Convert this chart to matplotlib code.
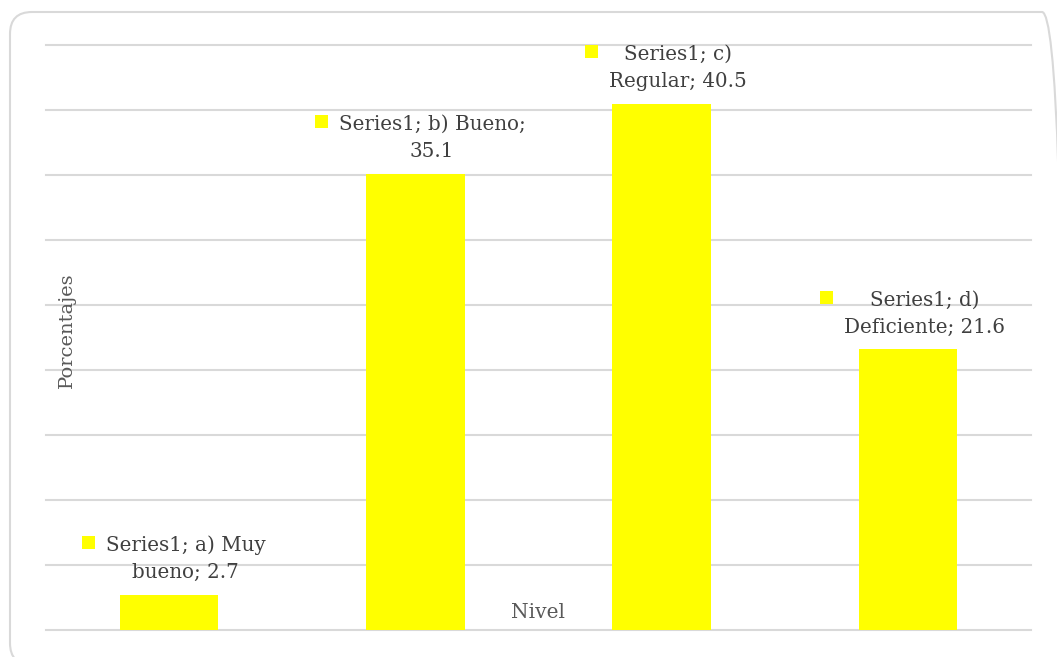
import matplotlib
matplotlib.use("Agg")
import matplotlib.pyplot as plt
from matplotlib.patches import FancyBboxPatch, Rectangle
from matplotlib.transforms import IdentityTransform

categories = ["a) Muy bueno", "b) Bueno", "c) Regular", "d) Deficiente"]
values = [2.7, 35.1, 40.5, 21.6]
series_name = "Series1"
label_lines = [
    ("Series1; a) Muy", "bueno; 2.7"),
    ("Series1; b) Bueno;", "35.1"),
    ("Series1; c)", "Regular; 40.5"),
    ("Series1; d)", "Deficiente; 21.6"),
]
y_ticks = [0, 5, 10, 15, 20, 25, 30, 35, 40, 45]

W, H = 1057, 657
DPI = 100
fig = plt.figure(figsize=(W / DPI, H / DPI), dpi=DPI)
FONT = "DejaVu Serif"
TXT = "#404040"
GRID = "#d9d9d9"
YELLOW = "#ffff00"

# rounded frame (display pixel coords)
frame = FancyBboxPatch((10, -8), 1054, 653,
                       boxstyle="round,pad=0,rounding_size=22",
                       transform=IdentityTransform(), facecolor="none",
                       edgecolor=GRID, linewidth=1.5, zorder=-1)
fig.patches.append(frame)

AXW = 1031 - 46
AXH = 630 - 45
ax = fig.add_axes([46 / W, 1 - 630 / H, AXW / W, AXH / H])
ax.set_facecolor("none")
x = list(range(len(categories)))
ax.bar(x, values, width=0.4, color=YELLOW, zorder=3)
ax.set_xlim(-0.5, len(categories) - 0.5)
ax.set_ylim(0, 45)
ax.set_yticks(y_ticks)
ax.set_xticks([])
ax.tick_params(left=False, labelleft=False)
ax.yaxis.grid(True, color=GRID, linewidth=1.5, zorder=0)
for gl in ax.get_ygridlines():
    gl.set_clip_on(False)
for s in ax.spines.values():
    s.set_visible(False)

ax.text((67 - 46) / AXW, 1 - (330 - 45) / AXH, "Porcentajes",
        transform=ax.transAxes, rotation=90, ha="center", va="center",
        fontsize=14, family=FONT, color="#595959")
ax.text((538 - 46) / AXW, 1 - (612 - 45) / AXH, "Nivel",
        transform=ax.transAxes, ha="center", va="center",
        fontsize=14.5, family=FONT, color="#595959")

texts = []
for xi, v, (l1, l2) in zip(x, values, label_lines):
    t = ax.annotate(l1 + "\n" + l2, xy=(xi, v), xytext=(12, 9),
                    textcoords="offset points", ha="center", va="bottom",
                    fontsize=14.3, family=FONT, color=TXT, linespacing=1.55,
                    zorder=5)
    texts.append(t)

fig.canvas.draw()
r = fig.canvas.get_renderer()
inv = ax.transData.inverted()
for t in texts:
    bb = t.get_window_extent(r)
    cx = bb.x0 - 17.5
    cy = bb.y1 - 7
    (x0, y0) = inv.transform((cx - 6.5, cy - 6.5))
    (x1, y1) = inv.transform((cx + 6.5, cy + 6.5))
    ax.add_patch(Rectangle((x0, y0), x1 - x0, y1 - y0, facecolor=YELLOW,
                           edgecolor="none", zorder=5, clip_on=False))

fig.savefig("out.png", dpi=DPI)
